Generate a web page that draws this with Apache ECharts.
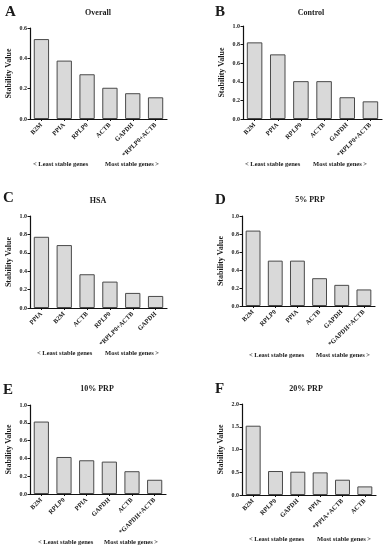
<!DOCTYPE html>
<html><head><meta charset="utf-8">
<script src="https://cdn.jsdelivr.net/npm/echarts@6/dist/echarts.min.js"></script>
<style>html,body{margin:0;padding:0;background:#fff}#c{width:386px;height:550px}</style>
</head><body><div id="c"></div>
<script>
const panelTitles = ['Overall', 'Control', 'HSA', '5% PRP', '10% PRP', '20% PRP'];
const panelLetters = ['A', 'B', 'C', 'D', 'E', 'F'];
const catsA = ['B2M', 'PPIA', 'RPLP0', 'ACTB', 'GAPDH', '*RPLP0+ACTB'];
const valsA = [0.527, 0.385, 0.295, 0.206, 0.170, 0.143];
const catsB = ['B2M', 'PPIA', 'RPLP0', 'ACTB', 'GAPDH', '*RPLP0+ACTB'];
const valsB = [0.824, 0.695, 0.407, 0.407, 0.234, 0.190];
const catsC = ['PPIA', 'B2M', 'ACTB', 'RPLP0', '*RPLP0+ACTB', 'GAPDH'];
const valsC = [0.774, 0.684, 0.367, 0.287, 0.164, 0.131];
const catsD = ['B2M', 'RPLP0', 'PPIA', 'ACTB', 'GAPDH', '*GAPDH+ACTB'];
const valsD = [0.838, 0.504, 0.504, 0.309, 0.235, 0.184];
const catsE = ['B2M', 'RPLP0', 'PPIA', 'GAPDH', 'ACTB', '*GAPDH+ACTB'];
const valsE = [0.814, 0.416, 0.379, 0.364, 0.256, 0.160];
const catsF = ['B2M', 'RPLP0', 'GAPDH', 'PPIA', '*PPIA+ACTB', 'ACTB'];
const valsF = [1.523, 0.527, 0.512, 0.497, 0.336, 0.189];
const yMaxes = [0.6, 1.0, 1.0, 1.0, 1.0, 2.0];
const yIntervals = [0.2, 0.2, 0.2, 0.2, 0.2, 0.5];
const yAxisName = 'Stability Value';
const leftNote = '< Least stable genes';
const rightNote = 'Most stable genes >';

const cats = [catsA, catsB, catsC, catsD, catsE, catsF];
const vals = [valsA, valsB, valsC, valsD, valsE, valsF];

// layout (pixels)
const grids = [
  {left: 30, top: 28, width: 137, height: 91},
  {left: 243, top: 26, width: 139, height: 93},
  {left: 30, top: 216, width: 137, height: 92},
  {left: 242, top: 216, width: 133, height: 90},
  {left: 30, top: 405, width: 136, height: 89},
  {left: 242, top: 404, width: 134, height: 91}
];
const titlePos = [[98, 13], [311, 13], [98, 201], [310, 200], [97, 389], [306, 389]];
const letterPos = [[5, 12], [215, 12], [3, 198], [215, 200], [3, 390], [215, 389]];
const notePos = [[33, 105, 164], [245, 313, 164], [37, 105, 353], [249, 316, 355], [38, 104, 542], [249, 317, 539]];

const SERIF = '"Liberation Serif", "DejaVu Serif", serif';
const TXT = '#1a1a1a';

const option = {
  animation: false,
  backgroundColor: '#fff',
  grid: grids.map(g => Object.assign({containLabel: false}, g)),
  xAxis: cats.map((c, i) => ({
    type: 'category', gridIndex: i, data: c,
    axisLine: {lineStyle: {color: '#111', width: 1.2}},
    axisTick: {show: true, alignWithLabel: true, length: 2, lineStyle: {color: '#111'}},
    axisLabel: {rotate: 45, interval: 0, fontSize: 6.5, fontWeight: 'bold', fontFamily: SERIF, color: TXT, margin: 5}
  })),
  yAxis: yMaxes.map((m, i) => ({
    type: 'value', gridIndex: i, min: 0, max: m, interval: yIntervals[i],
    name: yAxisName, nameLocation: 'middle', nameGap: 17,
    nameTextStyle: {fontSize: 8, fontWeight: 'bold', fontFamily: SERIF, color: TXT},
    axisLine: {show: true, lineStyle: {color: '#111', width: 1.2}},
    axisTick: {show: true, length: 2.5, lineStyle: {color: '#111'}},
    splitLine: {show: false},
    axisLabel: {fontSize: 6, fontWeight: 'bold', fontFamily: SERIF, color: TXT, margin: 3,
      formatter: v => v.toFixed(1)}
  })),
  series: vals.map((v, i) => ({
    type: 'bar', xAxisIndex: i, yAxisIndex: i, data: v,
    barCategoryGap: '33%',
    itemStyle: {color: '#d9d9d9', borderColor: '#4a4a4a', borderWidth: 1}
  })),
  graphic: []
};

for (let i = 0; i < 6; i++) {
  option.graphic.push({type: 'text', x: titlePos[i][0], y: titlePos[i][1],
    style: {text: panelTitles[i], font: 'bold 8px ' + SERIF, fill: TXT, textAlign: 'center', textVerticalAlign: 'middle'}});
  option.graphic.push({type: 'text', x: letterPos[i][0], y: letterPos[i][1],
    style: {text: panelLetters[i], font: 'bold 15px ' + SERIF, fill: TXT, textAlign: 'left', textVerticalAlign: 'middle'}});
  option.graphic.push({type: 'text', x: notePos[i][0], y: notePos[i][2],
    style: {text: leftNote, font: 'bold 6.5px ' + SERIF, fill: TXT, textAlign: 'left', textVerticalAlign: 'middle'}});
  option.graphic.push({type: 'text', x: notePos[i][1], y: notePos[i][2],
    style: {text: rightNote, font: 'bold 6.5px ' + SERIF, fill: TXT, textAlign: 'left', textVerticalAlign: 'middle'}});
}

const chart = echarts.init(document.getElementById('c'), null, {renderer: 'canvas'});
chart.setOption(option);
</script>
</body></html>
